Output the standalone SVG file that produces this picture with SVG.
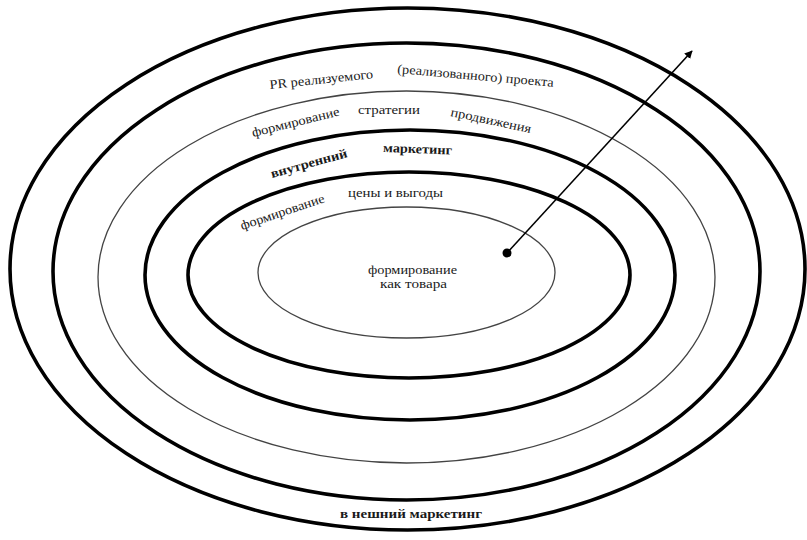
<svg xmlns="http://www.w3.org/2000/svg" width="807" height="540" viewBox="0 0 807 540">
<defs>
<style>
.thick{fill:none;stroke:#000;stroke-width:3.6}
.thin{fill:none;stroke:#444;stroke-width:1.3}
text{font-family:"Liberation Serif","Times New Roman",serif;fill:#1a1a1a;font-size:13px}
.b{font-weight:bold}
</style>
<marker id="ah" viewBox="0 0 10 10" refX="9" refY="5" markerWidth="8" markerHeight="8" markerUnits="userSpaceOnUse" orient="auto">
<path d="M0,0 L10,5 L0,10 z" fill="#000"/>
</marker>
</defs>
<rect width="807" height="540" fill="#fff"/>
<g id="ring1"><ellipse class="thick" cx="407.5" cy="269" rx="397.5" ry="261"/></g>
<g id="ring2"><ellipse class="thick" cx="406.5" cy="271.5" rx="353.5" ry="228.5"/></g>
<g id="ring3"><ellipse class="thin" cx="406.5" cy="277" rx="308.5" ry="186"/></g>
<g id="ring4"><ellipse class="thick" cx="410" cy="275" rx="265" ry="145"/></g>
<g id="ring5"><ellipse class="thick" cx="409" cy="275" rx="221" ry="103"/></g>
<g id="ring6"><ellipse class="thin" cx="406.5" cy="272.5" rx="148.5" ry="65.5"/></g>

<g id="labels">
<text x="270" y="89" textLength="104" lengthAdjust="spacingAndGlyphs" transform="rotate(-6 270 89)">PR реализуемого</text>
<text x="397" y="73" textLength="157" lengthAdjust="spacingAndGlyphs" transform="rotate(5 397 73)">(реализованного) проекта</text>
<text x="253" y="137" textLength="90" lengthAdjust="spacingAndGlyphs" transform="rotate(-14 253 137)">формирование</text>
<text x="358" y="114" textLength="62" lengthAdjust="spacingAndGlyphs">стратегии</text>
<text x="450" y="116" textLength="82" lengthAdjust="spacingAndGlyphs" transform="rotate(12 450 116)">продвижения</text>
<text class="b" x="272" y="178" textLength="79" lengthAdjust="spacingAndGlyphs" transform="rotate(-15.5 272 178)">внутренний</text>
<text class="b" x="383" y="152" textLength="69" lengthAdjust="spacingAndGlyphs" transform="rotate(2 383 152)">маркетинг</text>
<text x="348" y="197" textLength="95" lengthAdjust="spacingAndGlyphs">цены и выгоды</text>
<text x="242" y="230" textLength="88" lengthAdjust="spacingAndGlyphs" transform="rotate(-18.6 242 230)">формирование</text>
<text x="368" y="274" textLength="89" lengthAdjust="spacingAndGlyphs">формирование</text>
<text x="380" y="288" textLength="67" lengthAdjust="spacingAndGlyphs">как товара</text>
<text class="b" x="340" y="518" textLength="142" lengthAdjust="spacingAndGlyphs">в нешний маркетинг</text>
</g>

<g id="connectors">
<line x1="507" y1="253" x2="692" y2="51" stroke="#000" stroke-width="1.6" marker-end="url(#ah)"/>
<circle cx="507" cy="253" r="4.5" fill="#000"/>
</g>
</svg>
